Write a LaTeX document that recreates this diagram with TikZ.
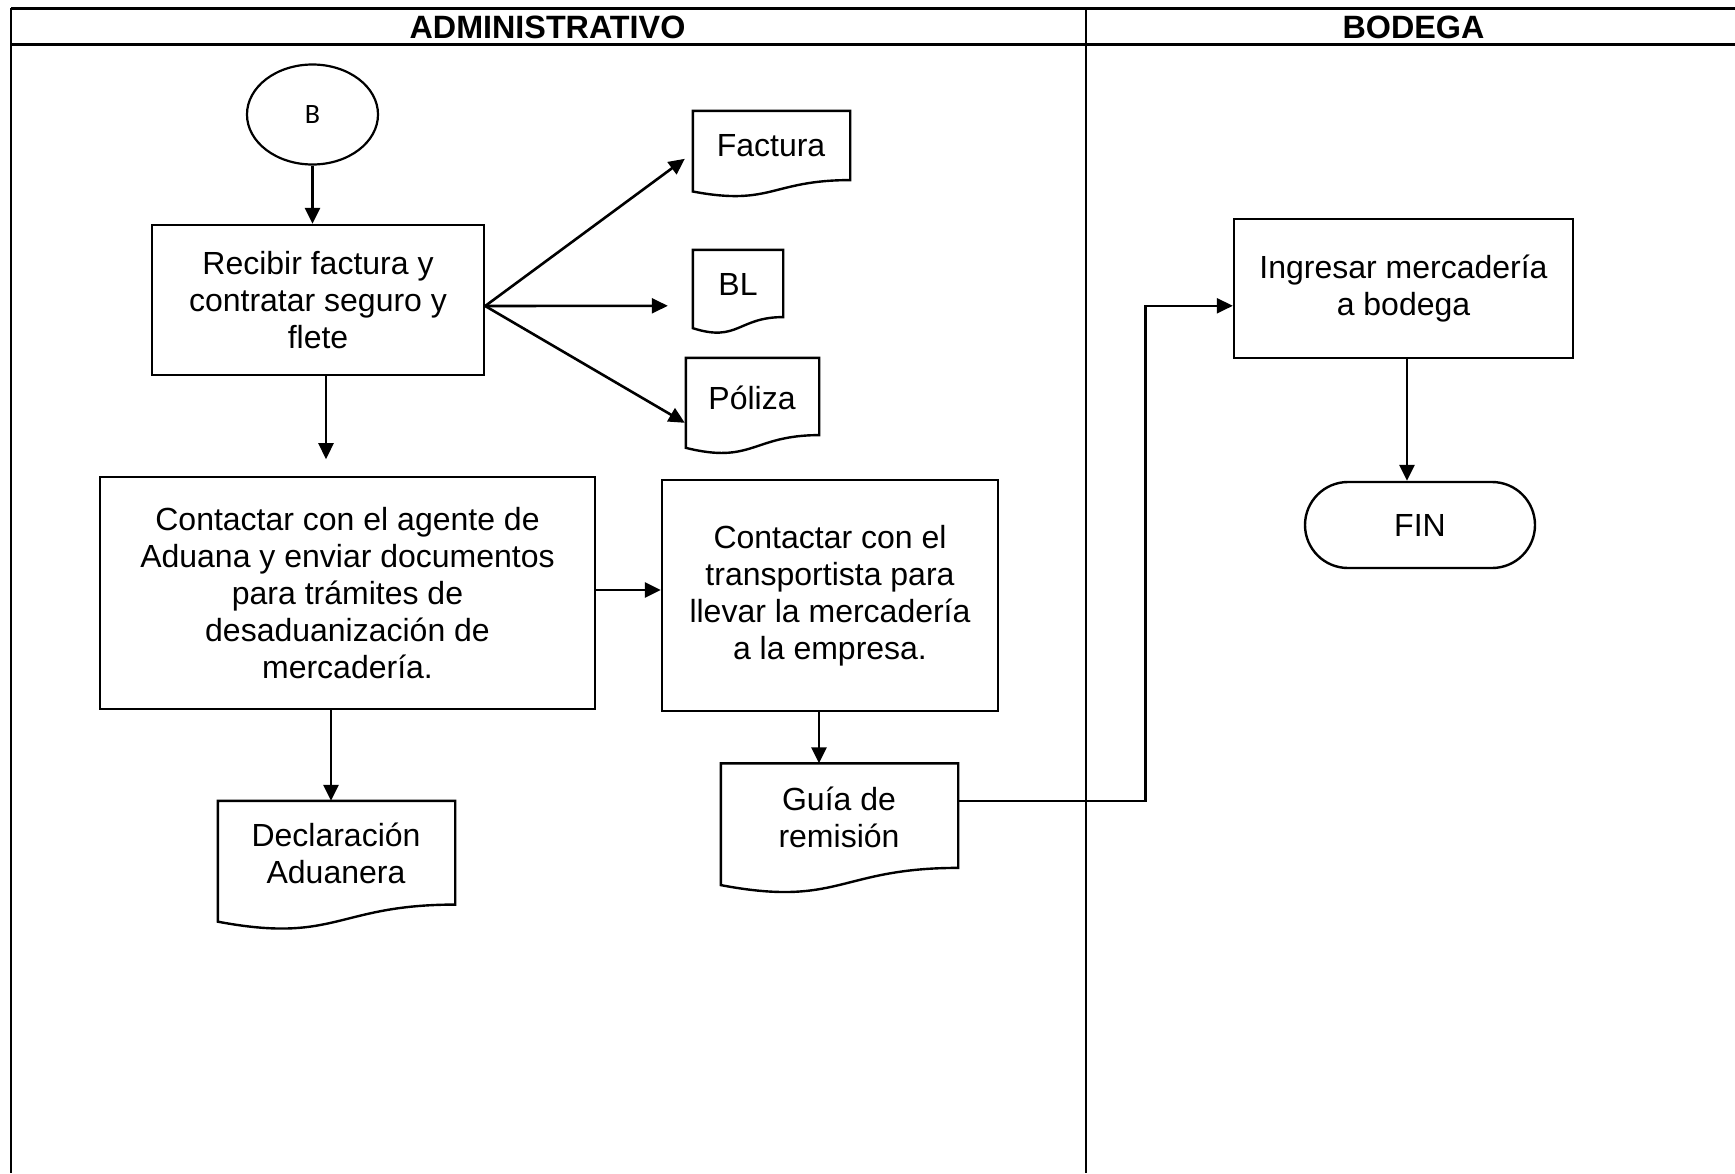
\documentclass[tikz,border=0pt]{standalone}
\usepackage{fontspec}
\setmainfont{Liberation Sans}
\newfontfamily\calfont{Carlito}
\usetikzlibrary{arrows.meta,calc,shapes.geometric}
\newcommand\wavedoc[1]{%
  \draw[docline] (#1.north west) -- (#1.north east) -- ($(#1.north east)!0.802!(#1.south east)$)
    .. controls ($(#1.north)!0.802!(#1.south)$) and ($(#1.north)!1.107!(#1.south)$) ..
    ($(#1.north west)!0.934!(#1.south west)$) -- cycle;}
\begin{document}
\begin{tikzpicture}[x=1pt,y=-1pt,
  tbl/.style={line width=2pt},
  tblh/.style={line width=3pt},
  hdr/.style={font=\fontsize{32.3}{37}\selectfont\bfseries, inner sep=0pt},
  proc/.style={draw, line width=2.4pt, rectangle, inner sep=0pt, align=center,
    font=\fontsize{32}{37}\selectfont},
  docarea/.style={rectangle, inner sep=0pt},
  docline/.style={line width=2.4pt},
  lbl/.style={align=center, inner sep=0pt, font=\fontsize{32}{37}\selectfont},
  arr/.style={line width=2.6pt, -{Triangle[length=16pt,width=15pt]}},
  conn/.style={line width=2.2pt}]
\useasboundingbox (0,0) rectangle (1735,1173);
% table
\draw[tblh] (11,8) -- (1735,8);
\draw[tblh] (11,44) -- (1735,44);
\draw[tbl] (11,8) -- (11,1173);
\draw[tbl] (1086,8) -- (1086,1173);
\node[hdr] (hadm) at (547.5,27) {ADMINISTRATIVO};
\node[hdr] (hbod) at (1413.5,27) {BODEGA};
% nodes
\node[draw, ellipse, line width=2.2pt, minimum width=131pt, minimum height=100pt, inner sep=0pt,
  font=\calfont\fontsize{28}{32}\selectfont] (B) at (312.5,114.5) {B};
\node[proc, minimum width=332pt, minimum height=150pt] (rec) at (318,300)
  {Recibir factura y\\contratar seguro y\\flete};
\node[proc, minimum width=495pt, minimum height=232pt] (adu) at (347.5,593)
  {Contactar con el agente de\\Aduana y enviar documentos\\para trámites de\\desaduanización de\\mercadería.};
\node[proc, minimum width=336pt, minimum height=231pt] (tra) at (830,595.5)
  {Contactar con el\\transportista para\\llevar la mercadería\\a la empresa.};
\node[proc, minimum width=339pt, minimum height=139pt] (ing) at (1403.5,288.5)
  {Ingresar mercadería\\a bodega};
\node[proc, rounded corners=43pt, minimum width=230pt, minimum height=86pt] (fin) at (1420,525) {FIN};
% documents
\node[docarea, minimum width=157pt, minimum height=86pt] (fact) at (771.5,154) {};
\node[docarea, minimum width=90pt, minimum height=83.5pt] (bl) at (738,291.75) {};
\node[docarea, minimum width=133pt, minimum height=96pt] (pol) at (752.5,406) {};
\node[docarea, minimum width=237pt, minimum height=129pt] (decl) at (336.5,865.5) {};
\node[docarea, minimum width=237pt, minimum height=130pt] (guia) at (839.5,828.5) {};
\wavedoc{fact}
\wavedoc{bl}
\wavedoc{pol}
\wavedoc{decl}
\wavedoc{guia}
\node[lbl] (factT) at (771,146) {Factura};
\node[lbl] (blT) at (738,284) {BL};
\node[lbl] (polT) at (752,398) {Póliza};
\node[lbl] (declT) at (336,853.5) {Declaración\\Aduanera};
\node[lbl] (guiaT) at (839,817) {Guía de\\remisión};
% connectors
\draw[arr] (B.south) -- (B.south |- rec.north);
\draw[arr] ([yshift=-6pt]rec.east) -- ([xshift=-8pt,yshift=-48pt]fact.north west);
\draw[arr] ([yshift=-6pt]rec.east) -- ([xshift=-25pt,yshift=-56pt]bl.north west);
\draw[arr] ([yshift=-6pt]rec.east) -- ([xshift=-1pt,yshift=-65pt]pol.north west);
\draw[arr] ([xshift=8pt]rec.south) -- ++(0,83);
\draw[arr] ([yshift=3pt]adu.east) -- ([yshift=3pt]adu.east -| tra.west);
\draw[arr] ([xshift=-5.5pt]decl.north |- adu.south) -- ([xshift=-5.5pt]decl.north);
\draw[arr] ([xshift=-11pt]tra.south) -- ([xshift=-11pt]tra.south |- guia.north);
\draw[arr] ([yshift=-37.5pt]guia.north east) -- ++(187,0) |- ([yshift=-88pt]ing.north west);
\draw[arr] ([xshift=3.5pt]ing.south) -- ([xshift=3.5pt]ing.south |- fin.north);
\end{tikzpicture}
\end{document}
